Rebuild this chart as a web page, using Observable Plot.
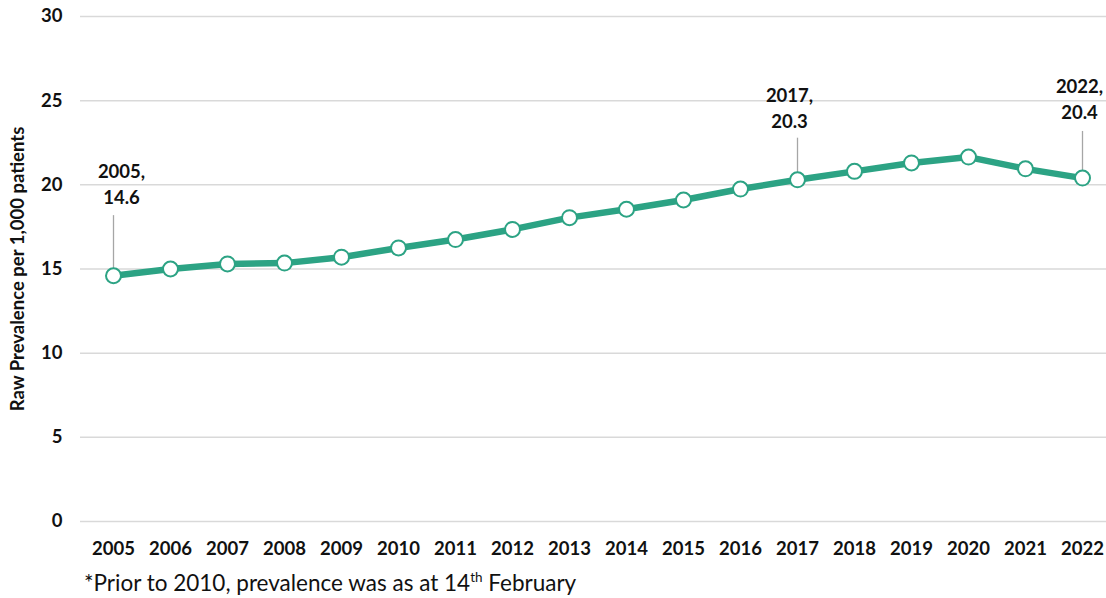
<!DOCTYPE html>
<html>
<head>
<meta charset="utf-8">
<script src="https://cdn.jsdelivr.net/npm/d3@7"></script>
<script src="https://cdn.jsdelivr.net/npm/@observablehq/plot@0.6"></script>
<style>
  html, body { margin: 0; padding: 0; background: #fff; }
  body { width: 1106px; height: 598px; overflow: hidden; font-family: Lato, "Open Sans", sans-serif; }
  #chart svg { display: block; }
  #note { margin-left: 84px; margin-top: -2px; font-size: 22.5px; color: #111; font-family: Lato, "Open Sans", sans-serif; line-height: 26px; }
  #note sup { font-size: 13.5px; vertical-align: 9px; line-height: 0; }
</style>
</head>
<body>
<div id="chart"></div>
<div id="note">*Prior to 2010, prevalence was as at 14<sup>th</sup> February</div>
<script>
const years = ["2005","2006","2007","2008","2009","2010","2011","2012","2013","2014","2015","2016","2017","2018","2019","2020","2021","2022"];
const prevalence = [14.6, 15.0, 15.3, 15.35, 15.7, 16.25, 16.75, 17.35, 18.05, 18.55, 19.1, 19.75, 20.3, 20.8, 21.3, 21.65, 20.95, 20.4];
const yTicks = [0, 5, 10, 15, 20, 25, 30];
const labelYears = ["2005", "2017", "2022"];
const yLabel = "Raw Prevalence per 1,000 patients";

// label placement (styling only): pixel offsets and leader length in y units
const labelStyle = {
  "2005": {dx: 8, dy: -93, lead: 3.6},
  "2017": {dx: -8, dy: -73, lead: 2.5},
  "2022": {dx: -3, dy: -80, lead: 2.8}
};

const data = years.map((y, i) => ({year: y, value: prevalence[i]}));
const annotations = data.filter(d => labelYears.includes(d.year))
  .map(d => ({...d, label: `${d.year},\n${d.value.toFixed(1)}`}));

const green = "#2ca384";
const fontFamily = "Lato, 'Open Sans', sans-serif";

const labelMarks = annotations.map(a => Plot.text([a], {
  x: "year", y: "value", text: "label",
  dx: labelStyle[a.year].dx, dy: labelStyle[a.year].dy,
  fontSize: 18.5, fontWeight: "bold", lineHeight: 1.4, fill: "#111", lineAnchor: "middle"
}));

const chart = Plot.plot({
  width: 1106,
  height: 572,
  marginLeft: 80,
  marginRight: 0,
  marginTop: 16,
  marginBottom: 51,
  style: {fontFamily, color: "#111", background: "#fff"},
  x: {type: "point", domain: years, range: [109, 1085], padding: 0, label: null},
  y: {domain: [0, 30], ticks: yTicks, label: null},
  marks: [
    Plot.ruleY(yTicks, {stroke: "#d9d9d9", strokeWidth: 1.5}),
    Plot.axisY({ticks: yTicks, tickSize: 0, tickPadding: 18, fontSize: 18.5, fontWeight: "bold", label: null}),
    Plot.axisX({tickSize: 0, tickPadding: 20, fontSize: 18.5, fontWeight: "bold", label: null}),
    Plot.text([yLabel], {frameAnchor: "left", textAnchor: "middle", dx: -62, rotate: -90, fontSize: 18.5, fontWeight: "bold", fill: "#111"}),
    Plot.link(annotations, {x1: "year", x2: "year", y1: "value", y2: d => d.value + labelStyle[d.year].lead, stroke: "#a6a6a6", strokeWidth: 1.3}),
    Plot.line(data, {x: "year", y: "value", stroke: green, strokeWidth: 6.5}),
    Plot.dot(data, {x: "year", y: "value", r: 7.5, fill: "white", stroke: green, strokeWidth: 2}),
    ...labelMarks
  ]
});
document.getElementById("chart").appendChild(chart);
</script>
</body>
</html>
